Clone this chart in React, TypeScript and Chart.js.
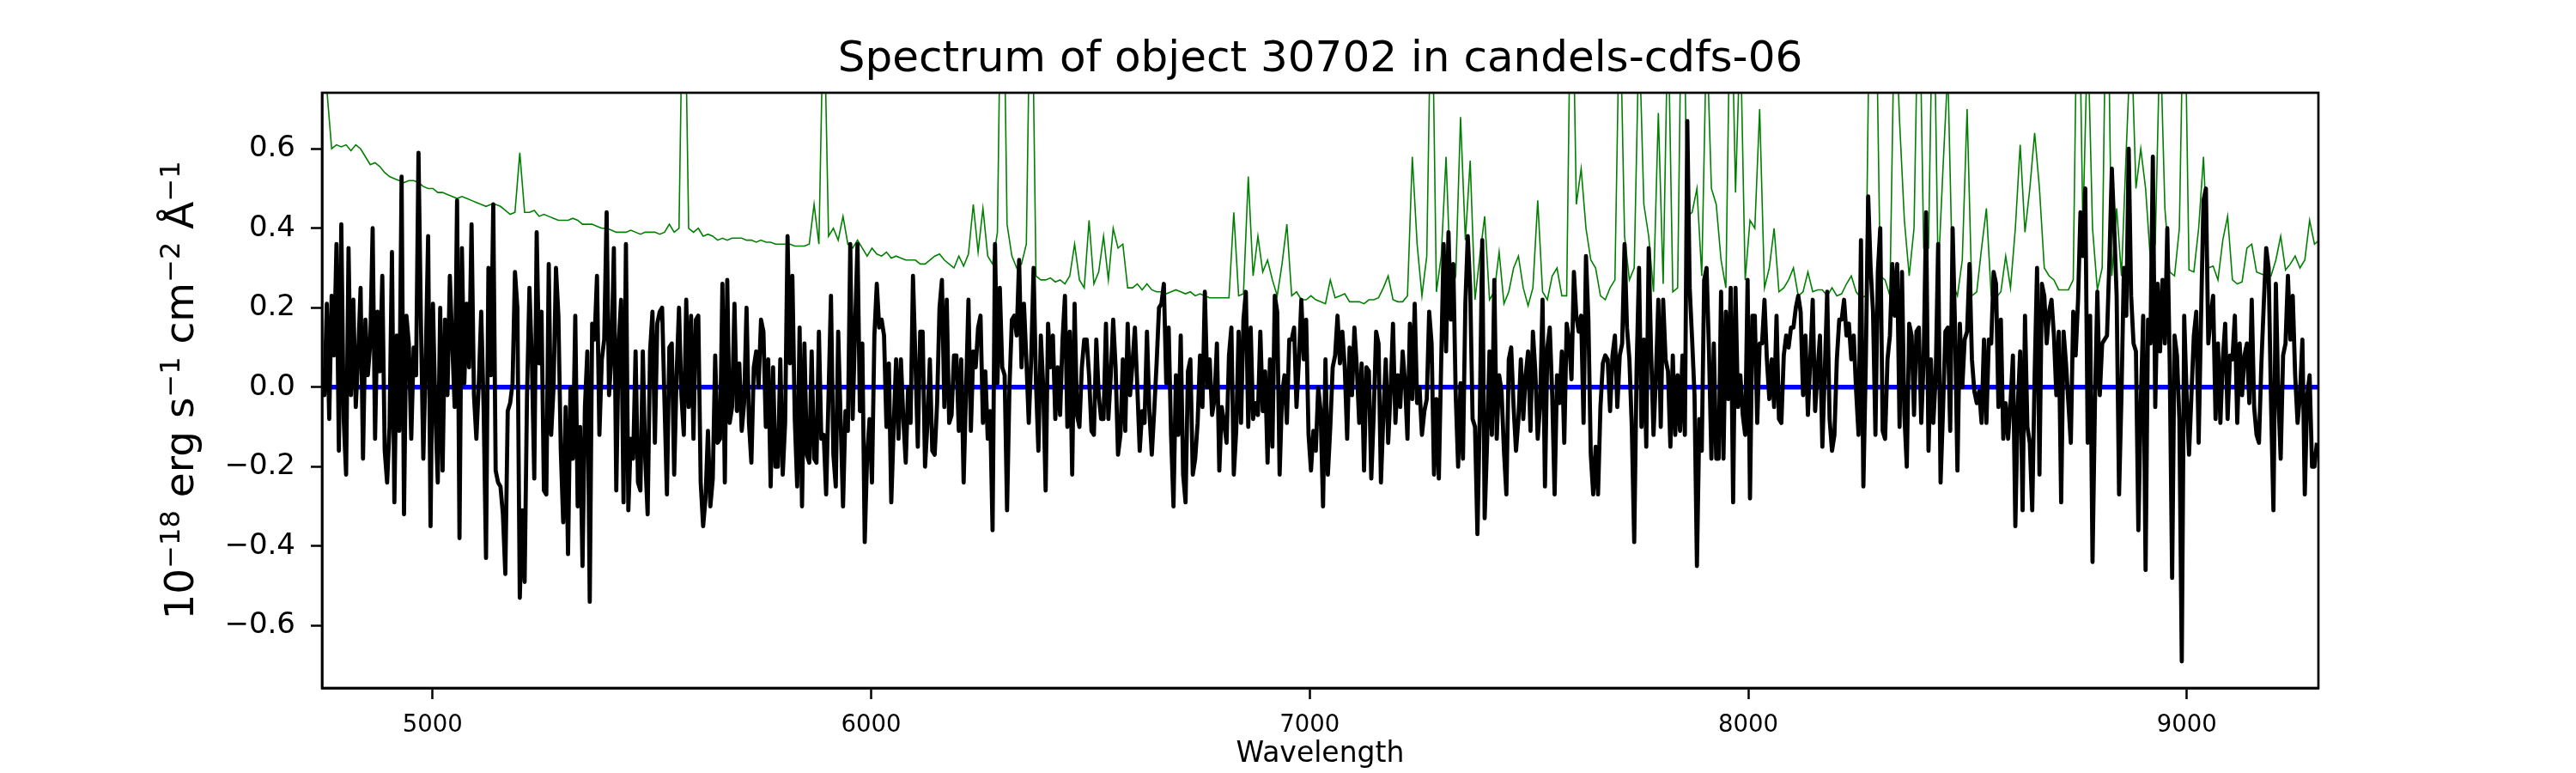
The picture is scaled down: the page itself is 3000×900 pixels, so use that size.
import { useEffect, useRef } from 'react';
import { Chart, registerables } from 'chart.js';

Chart.register(...registerables);

// wavelength sampling of the two spectra (Angstrom)
const WAVE_START = 4748;
const FLUX_STEP = 5.5;
const SKY_STEP = 11;

const X_MIN = 4748;
const X_MAX = 9300;
const Y_MIN = -0.757;
const Y_MAX = 0.741;

const X_TICKS = [5000, 6000, 7000, 8000, 9000];
const Y_TICKS = [-0.6, -0.4, -0.2, 0, 0.2, 0.4, 0.6];

// model (blue) is flat at zero over the whole range
const MODEL_WAVE = [4748, 9300];
const MODEL_FLUX = [0, 0];

const FLUX_4748 = [
  0.05, -0.02, 0.21, -0.08, 0.23, 0.08, 0.36, -0.16, 0.41, -0.08,
  -0.22, 0.35, -0.02, 0.22, -0.05, 0.08, 0.25, -0.18, 0.17, 0.03,
  0.11, 0.40, -0.13, 0.19, 0.04, 0.28, -0.16, -0.24, -0.10, 0.34,
  -0.29, 0.13, -0.11, 0.53, -0.32, 0.18, 0.11, -0.13, 0.10, 0.03,
  0.59, 0.17, -0.18, 0.07, 0.38, -0.35, 0.21, -0.06, -0.24, 0.20,
  -0.21, 0.17, -0.02, 0.28, 0.11, -0.05, 0.47, -0.38, 0.35, 0.01,
  0.21, 0.05, 0.41, -0.02, -0.13, 0.01, 0.19, -0.05, -0.43, 0.30,
  0.03, 0.46, -0.21, -0.24, -0.25, -0.32, -0.47, -0.06, -0.04, 0.01,
  0.29, 0.20, -0.53, -0.31, -0.49, -0.02, 0.25, 0.07, -0.23, 0.39,
  0.06, 0.19, -0.26, -0.27, 0.31, -0.12, 0.00, 0.30, 0.18, -0.16,
  -0.34, -0.05, -0.42, 0.00, -0.18, 0.18, -0.30, -0.10, -0.45, -0.05,
  0.09, -0.54,
];
const FLUX_5364 = [
  0.16, 0.12, 0.28, -0.12, 0.07, 0.12, 0.44, -0.02, 0.08, 0.35,
  -0.26, 0.11, 0.22, -0.29, 0.36, -0.31, -0.13, -0.18, 0.09, -0.24,
  -0.26, 0.09, -0.18, -0.32, 0.09, 0.19, -0.14, 0.16, 0.19, 0.20,
  -0.04, -0.27, 0.10, 0.11, -0.22, 0.03, 0.20, -0.02, -0.12, 0.22,
  -0.05, 0.18, -0.13, 0.17, 0.18, -0.24, -0.35, -0.28, -0.11, -0.30,
  -0.23, 0.08, -0.14, -0.13, 0.26, -0.24, 0.27, -0.09, -0.05, 0.21,
  -0.06, 0.06, -0.11, -0.04, 0.20, -0.09, -0.19, 0.05, 0.09, 0.00,
  0.17, 0.14, -0.10, 0.07, -0.25, 0.05, -0.20, -0.20, 0.07, -0.22,
  -0.09, 0.38, 0.06, 0.28, -0.08, -0.25, 0.15, -0.30, 0.11, -0.17,
  -0.19, 0.09, -0.18, -0.19, 0.14, -0.13, -0.12, -0.27,
];
const FLUX_5903 = [
  -0.02, 0.23, -0.17, -0.25, 0.14, -0.08, -0.30, -0.06, -0.11, 0.36,
  -0.08, 0.15, 0.36, -0.06, 0.11, -0.39, -0.17, -0.08, -0.24, 0.13,
  0.26, 0.15, 0.17, 0.13, -0.10, 0.06, -0.29, -0.10, 0.07, -0.13,
  0.07, -0.08, -0.19, 0.00, -0.09, 0.28, 0.07, -0.15, 0.14, 0.14,
  -0.20, -0.09, 0.07, -0.16, -0.17, -0.04, 0.20, 0.27, -0.05, 0.22,
  -0.09, -0.07, 0.08, 0.08, -0.11, 0.07, -0.24, -0.01, 0.22, -0.11,
  0.09, 0.05, 0.15, 0.18, -0.09, 0.04, -0.13, -0.06, -0.36, 0.36,
  0.01, 0.25, 0.05, 0.03, -0.31, 0.00, 0.17, 0.18, 0.13, 0.32,
  0.05, 0.21, 0.07, -0.09, 0.07, 0.30, 0.01, -0.16, 0.13, 0.00,
  -0.26, 0.16, 0.05, 0.13, -0.08, 0.05,
];
const FLUX_6431 = [
  -0.07, 0.12, 0.23, -0.10, 0.14, -0.22, 0.21, -0.07, -0.10, 0.05,
  0.12, 0.12, 0.03, -0.11, -0.12, 0.12, -0.02, -0.08, -0.08, 0.16,
  -0.08, 0.03, 0.17, 0.05, -0.17, -0.12, 0.07, -0.11, 0.16, -0.02,
  0.06, 0.15, 0.00, -0.16, -0.06, -0.09, 0.14, -0.06, -0.17, -0.06,
  0.06, 0.20, 0.21, 0.26, 0.01, 0.15, -0.12, -0.30, 0.03, -0.12,
  0.13, -0.22, -0.29, 0.04, 0.07, -0.22, -0.18, -0.09, 0.08, -0.05,
  0.24, 0.00, 0.07, -0.07, -0.03, 0.11, -0.21, -0.05, -0.09, -0.14,
  0.08, 0.15, -0.22, -0.11, 0.14, -0.09, 0.17, 0.24, -0.10, 0.15,
  -0.08, -0.04, -0.07, 0.14, -0.06, 0.04, -0.19, 0.07, -0.15, 0.23,
  0.19, -0.22, -0.02, 0.03, -0.09, 0.12,
];
const FLUX_6959 = [
  0.12, 0.15, -0.05, 0.07, 0.22, 0.07, 0.17, -0.12, -0.21, -0.11,
  -0.16, 0.00, -0.06, -0.30, 0.07, -0.22, -0.10, 0.05, 0.08, 0.18,
  0.06, 0.14, 0.05, -0.13, 0.10, -0.02, 0.15, 0.05, -0.09, 0.06,
  -0.21, 0.05, 0.04, -0.23, -0.07, 0.14, 0.11, -0.24, -0.07, 0.07,
  -0.14, -0.01, 0.16, -0.09, 0.03, -0.05, 0.09, 0.01, -0.13, 0.16,
  -0.03, 0.21, -0.04, 0.00, -0.12, -0.06, -0.03, 0.19, 0.11, -0.22,
  -0.03, -0.23, 0.07, 0.36, 0.09, 0.39, 0.17, 0.31, -0.02, -0.20,
  0.01, -0.18, 0.21, 0.38, 0.25, -0.08, -0.10, -0.37, -0.06, 0.37,
  -0.33, -0.14, 0.09, -0.12, 0.27, -0.13, 0.03, -0.01, -0.16, -0.27,
  0.07, 0.10, -0.05, -0.16, -0.08, 0.07,
];
const FLUX_7487 = [
  -0.08, 0.03, 0.09, -0.11, 0.14, 0.04, -0.13, -0.04, 0.22, -0.25,
  0.10, 0.15, -0.02, -0.27, 0.03, -0.04, 0.09, -0.14, 0.16, 0.12,
  0.02, 0.29, 0.18, 0.14, 0.18, -0.09, 0.33, 0.17, -0.17, -0.27,
  -0.15, -0.27, -0.05, 0.06, 0.08, 0.07, -0.06, 0.08, 0.13, -0.05,
  0.08, 0.11, 0.36, 0.15, 0.07, -0.10, -0.39, 0.05, 0.30, -0.10,
  0.12, -0.15, 0.35, 0.09, -0.12, 0.03, 0.22, -0.10, 0.22, 0.07,
  0.04, -0.15, 0.08, -0.12, 0.03, -0.11, 0.08, -0.12, 0.67, 0.25,
  0.12, -0.02, -0.45, -0.08, -0.16, 0.27, 0.30, 0.09, -0.18, 0.11,
  -0.18, -0.18, 0.24, -0.18, 0.19, -0.03, 0.25, -0.29, 0.25, -0.05,
  0.03, -0.07, -0.12, 0.27, -0.28, 0.18,
];
const FLUX_8015 = [
  0.18, -0.09, 0.11, 0.11, 0.22, 0.07, -0.03, 0.07, -0.05, 0.18,
  -0.08, -0.09, 0.08, 0.13, 0.10, 0.15, 0.15, 0.20, 0.23, 0.19,
  -0.02, 0.13, -0.07, 0.07, 0.22, -0.06, 0.04, 0.13, -0.15, 0.04,
  0.24, -0.08, -0.16, -0.12, 0.07, 0.17, 0.17, 0.22, 0.13, 0.16,
  0.07, 0.13, -0.01, -0.12, 0.37, -0.25, 0.06, 0.48, 0.30, 0.19,
  -0.12, 0.29, 0.40, -0.11, -0.13, 0.07, 0.13, 0.31, 0.18, 0.31,
  -0.10, 0.29, -0.07, -0.20, 0.16,
  0.13, -0.07, 0.14, 0.15, -0.09, 0.07, 0.44, -0.16, 0.07, -0.09,
  0.03, 0.36, -0.24, -0.06, 0.14, 0.15, -0.11, 0.40, 0.15, -0.21,
  0.16, 0.00, 0.12, 0.14, 0.31, 0.07, -0.01, -0.04, -0.01, -0.09,
  0.12,
];
const FLUX_8543 = [
  -0.09, 0.12, 0.11, 0.29, 0.26, -0.05, 0.17, -0.13, -0.04, -0.13,
  -0.04, 0.08, -0.35, -0.05, 0.09, -0.31, 0.18, -0.10, -0.14, -0.31,
  0.03, 0.30, -0.22, 0.26, 0.23, 0.11, 0.19, 0.22, 0.13, -0.02,
  0.14, -0.29, 0.14, 0.06, -0.04, -0.14, 0.19, 0.08, 0.22, 0.44,
  0.33, 0.50, -0.14, 0.18, -0.44, -0.04, 0.24, -0.02, 0.11, 0.12,
  0.13, 0.32, 0.55, 0.40, 0.23, -0.27, -0.02, 0.30, 0.18, 0.60,
  0.23, 0.11, 0.09, -0.36, -0.04, 0.18, -0.46, 0.17, 0.11, 0.58,
  -0.05, 0.26, 0.09, 0.27, 0.11, 0.40, 0.06, -0.48, 0.13, 0.08,
  -0.08, -0.69, 0.18, -0.02, -0.17, -0.02, 0.13, 0.19, -0.14, 0.18,
  0.47, 0.50, 0.11, 0.18, 0.23, -0.08, 0.11, -0.09, 0.07, 0.16,
  -0.08, 0.08, 0.07, 0.18, -0.09, 0.11, -0.02, 0.08, 0.11, -0.04,
  0.22, -0.05, -0.12, -0.14, 0.06, 0.21, 0.35, 0.30, -0.04, -0.31,
  0.26, -0.02, -0.18, 0.08, 0.11, 0.28, 0.12, 0.23, 0.03, -0.09,
  -0.02, 0.12, -0.27, -0.02, 0.03, -0.20, -0.20, -0.14,
];

// noise / sky spectrum (green), coarser sampling
const SKY_4748 = [
  1.2, 0.75, 0.60, 0.61, 0.605, 0.61, 0.595, 0.61, 0.60, 0.58,
  0.56, 0.565, 0.555, 0.54, 0.53, 0.525, 0.52, 0.515, 0.52, 0.52,
  0.515, 0.505, 0.50, 0.50, 0.49, 0.49, 0.485, 0.48, 0.475, 0.48,
  0.475, 0.47, 0.465, 0.46, 0.455, 0.46, 0.46, 0.455, 0.445, 0.435,
  0.44, 0.59, 0.44, 0.44, 0.445, 0.43, 0.435, 0.43, 0.425, 0.42,
  0.42, 0.42, 0.425, 0.42, 0.41, 0.41,
];
const SKY_5364 = [
  0.41, 0.405, 0.40, 0.40, 0.395, 0.39, 0.39, 0.39, 0.395, 0.39,
  0.385, 0.39, 0.39, 0.39, 0.385, 0.39, 0.41, 0.39, 0.40, 1.2,
  0.40, 0.39, 0.40, 0.38, 0.385, 0.38, 0.37, 0.375, 0.37, 0.375,
  0.375, 0.375, 0.37, 0.37, 0.365, 0.37, 0.365, 0.365, 0.36, 0.36,
  0.36, 0.36, 0.355, 0.355, 0.355, 0.36, 0.46, 0.36, 1.0,
];
const SKY_5903 = [
  0.38, 0.40, 0.37, 0.43, 0.36, 0.35, 0.37, 0.35, 0.33, 0.35,
  0.335, 0.33, 0.34, 0.325, 0.33, 0.325, 0.32, 0.32, 0.32, 0.31,
  0.31, 0.32, 0.33, 0.335, 0.32, 0.31, 0.30, 0.33, 0.305, 0.335,
  0.46, 0.34, 0.45, 0.33, 0.31, 0.39, 1.3, 0.41, 0.33, 0.30,
  0.31, 0.36, 1.2, 0.28, 0.27, 0.27, 0.275, 0.265,
];
const SKY_6431 = [
  0.27, 0.26, 0.28, 0.36, 0.27, 0.25, 0.42, 0.26, 0.29, 0.38,
  0.27, 0.40, 0.35, 0.36, 0.25, 0.25, 0.26, 0.245, 0.26, 0.245,
  0.24, 0.24, 0.235, 0.24, 0.245, 0.24, 0.235, 0.24, 0.23, 0.235,
  0.23, 0.225, 0.225, 0.225, 0.225, 0.225, 0.44, 0.23, 0.235, 0.53,
  0.28, 0.38, 0.29, 0.32, 0.27, 0.23, 0.31, 0.41,
];
const SKY_6959 = [
  0.23, 0.24, 0.22, 0.22, 0.23, 0.22, 0.215, 0.21, 0.27, 0.225,
  0.23, 0.235, 0.215, 0.215, 0.215, 0.21, 0.22, 0.22, 0.225, 0.25,
  0.28, 0.22, 0.215, 0.215, 0.23, 0.58, 0.36, 0.23, 0.33, 1.1,
  0.24, 0.33, 0.58, 0.24, 0.28, 0.68, 0.37, 0.57, 0.22, 0.33,
  0.43, 0.22, 0.24, 0.34, 0.21, 0.24, 0.30, 0.33,
];
const SKY_7487 = [
  0.25, 0.205, 0.25, 0.47, 0.24, 0.22, 0.28, 0.30, 0.23, 0.23,
  1.2, 0.46, 0.55, 0.40, 0.32, 0.30, 0.23, 0.22, 0.25, 0.27,
  1.0, 0.38, 0.27, 0.30, 0.9, 0.46, 0.38, 0.24, 0.69, 0.26,
  0.95, 0.24, 0.25, 1.2, 0.43, 0.44, 0.50, 0.28, 0.9, 0.50,
  0.46, 0.32, 0.25, 1.1, 0.49, 0.9, 0.27, 0.42,
];
const SKY_8015 = [
  0.40, 0.70, 0.25, 0.30, 0.40, 0.24, 0.25, 0.27, 0.30, 0.23,
  0.24, 0.29, 0.24, 0.245, 0.245, 0.23, 0.25, 0.23, 0.235, 0.26,
  0.28, 0.24, 0.225, 0.23, 1.2, 1.1, 0.28, 0.27, 0.23, 1.0,
  0.67, 0.42, 0.28, 0.40, 1.1, 0.35, 0.35, 1.1, 0.28, 0.55,
  0.8, 0.26, 0.23, 0.32, 0.70, 0.23, 0.24, 0.35,
];
const SKY_8543 = [
  0.45, 0.23, 0.225, 0.24, 0.33, 0.25, 0.40, 0.61, 0.39, 0.50,
  0.64, 0.50, 0.30, 0.28, 0.27, 0.245, 0.245, 0.245, 0.27, 1.2,
  0.40, 0.9, 0.40, 0.245, 0.30, 1.2, 0.28, 0.45, 0.28, 0.6,
  0.9, 0.5, 0.6, 0.5, 0.32, 0.36, 0.9, 0.45, 0.29, 0.28,
  0.40, 1.1, 0.295, 0.29, 0.40, 0.58, 0.30, 0.305, 0.27, 0.37,
  0.43, 0.27, 0.26, 0.265, 0.35, 0.36, 0.29, 0.285, 0.28, 0.28,
  0.32, 0.38, 0.295, 0.31, 0.33, 0.30, 0.32, 0.42, 0.36, 0.37,
];

const FLUX = [
  ...FLUX_4748, ...FLUX_5364, ...FLUX_5903, ...FLUX_6431,
  ...FLUX_6959, ...FLUX_7487, ...FLUX_8015, ...FLUX_8543,
];
const SKY = [
  ...SKY_4748, ...SKY_5364, ...SKY_5903, ...SKY_6431,
  ...SKY_6959, ...SKY_7487, ...SKY_8015, ...SKY_8543,
];

const FONT = 'DejaVu Sans';
const TITLE = 'Spectrum of object 30702 in candels-cdfs-06';
const X_LABEL = 'Wavelength';
// y label pieces: [text, superscript?]
const Y_LABEL: [string, boolean][] = [
  ['10', false], ['\u221218', true], [' erg s', false], ['\u22121', true],
  [' cm', false], ['\u22122', true], [' \u00c5', false], ['\u22121', true],
];

const fmtY = (v: number) => {
  const r = Math.round(v * 10) / 10;
  return r < 0 ? '\u2212' + Math.abs(r).toFixed(1) : Math.abs(r).toFixed(1);
};

const textPlugin = {
  id: 'mplText',
  afterDraw(chart: Chart) {
    const { ctx, chartArea } = chart;
    const cx = (chartArea.left + chartArea.right) / 2;
    const cy = (chartArea.top + chartArea.bottom) / 2;
    ctx.save();
    // frame
    ctx.strokeStyle = '#000';
    ctx.lineWidth = 2.7;
    ctx.strokeRect(chartArea.left, chartArea.top, chartArea.right - chartArea.left, chartArea.bottom - chartArea.top);

    ctx.fillStyle = '#000';
    ctx.textAlign = 'center';
    ctx.textBaseline = 'alphabetic';
    ctx.font = `50px "${FONT}"`;
    ctx.fillText(TITLE, cx, 83);
    ctx.font = `33px "${FONT}"`;
    ctx.fillText(X_LABEL, cx, 887);

    // rotated y label with superscripts
    const big = `47px "${FONT}"`;
    const small = `32px "${FONT}"`;
    let total = 0;
    const widths = Y_LABEL.map(([t, sup]) => {
      ctx.font = sup ? small : big;
      const w = ctx.measureText(t).width;
      total += w;
      return w;
    });
    ctx.translate(225, cy);
    ctx.rotate(-Math.PI / 2);
    ctx.textAlign = 'left';
    let x = -total / 2;
    Y_LABEL.forEach(([t, sup], i) => {
      ctx.font = sup ? small : big;
      ctx.fillText(t, x, sup ? -16 : 0);
      x += widths[i];
    });
    ctx.restore();
  },
};

export default function App() {
  const canvasRef = useRef<HTMLCanvasElement>(null);
  const chartRef = useRef<Chart | null>(null);

  useEffect(() => {
    document.body.style.margin = '0';
    if (!canvasRef.current) return;
    if (chartRef.current) chartRef.current.destroy();
    const ctx = canvasRef.current.getContext('2d');
    if (!ctx) return;

    chartRef.current = new Chart(ctx, {
      type: 'line',
      data: {
        datasets: [
          {
            data: FLUX.map((y, i) => ({ x: WAVE_START + i * FLUX_STEP, y })),
            borderColor: '#000000',
            borderWidth: 4.8,
            borderJoinStyle: 'round',
          },
          {
            data: MODEL_WAVE.map((x, i) => ({ x, y: MODEL_FLUX[i] })),
            borderColor: '#0000ff',
            borderWidth: 5.5,
          },
          {
            data: SKY.map((y, i) => ({ x: WAVE_START + i * SKY_STEP, y })),
            borderColor: '#008000',
            borderWidth: 1.6,
          },
        ],
      },
      options: {
        animation: false,
        responsive: false,
        devicePixelRatio: 1,
        layout: { padding: { left: 0, right: 300, top: 108, bottom: 0 } },
        elements: { point: { radius: 0 }, line: { tension: 0, fill: false } },
        plugins: {
          legend: { display: false },
          tooltip: { enabled: false },
        },
        scales: {
          x: {
            type: 'linear',
            min: X_MIN,
            max: X_MAX,
            afterFit: (s: any) => { s.height = 99; },
            afterBuildTicks: (s: any) => { s.ticks = X_TICKS.map((value) => ({ value })); },
            grid: { drawOnChartArea: false, drawTicks: true, tickLength: 13, tickWidth: 2.5, tickColor: '#000' },
            border: { display: true, color: '#000', width: 2.7 },
            ticks: {
              color: '#000',
              font: { family: FONT, size: 27.5 },
              padding: 14,
              maxRotation: 0,
              autoSkip: false,
              callback: (v: any) => String(v),
            },
          },
          y: {
            type: 'linear',
            min: Y_MIN,
            max: Y_MAX,
            afterFit: (s: any) => { s.width = 375; },
            afterBuildTicks: (s: any) => { s.ticks = Y_TICKS.map((value) => ({ value })); },
            grid: { drawOnChartArea: false, drawTicks: true, tickLength: 13, tickWidth: 2.5, tickColor: '#000' },
            border: { display: true, color: '#000', width: 2.7 },
            ticks: {
              color: '#000',
              font: { family: FONT, size: 34 },
              padding: 18,
              autoSkip: false,
              callback: (v: any) => fmtY(Number(v)),
            },
          },
        },
      },
      plugins: [textPlugin],
    });

    return () => {
      if (chartRef.current) {
        chartRef.current.destroy();
        chartRef.current = null;
      }
    };
  }, []);

  return (
    <div style={{ width: 3000, height: 900 }}>
      <canvas ref={canvasRef} width={3000} height={900} style={{ display: 'block', width: 3000, height: 900 }} />
    </div>
  );
}
